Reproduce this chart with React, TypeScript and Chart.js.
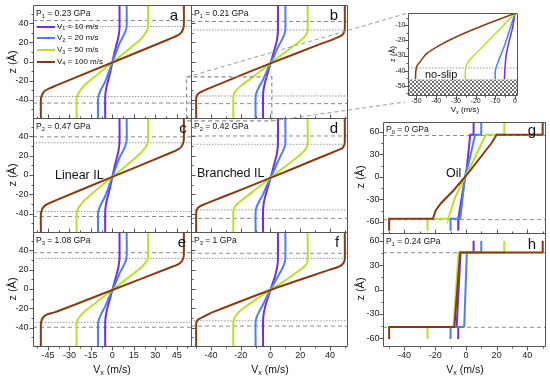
import React, { useEffect, useRef } from 'react';
import { Chart, registerables } from 'chart.js';

Chart.register(...registerables);

type Pt = [number, number]; // [Vx (m/s), z (Å)]

const FONT = '"Liberation Sans", Arial, Helvetica, sans-serif';
const SERIES_COLORS = ['#6c2fe3', '#4c7ff0', '#b6e22c', '#8a3a10'];
const SERIES_SPEEDS = ['10', '20', '50', '100'];

const PANEL_LETTERS = ['a', 'b', 'c', 'd', 'e', 'f', 'g', 'h'];
const PANEL_P_INDEX = ['1', '1', '2', '2', '3', '3', '0', '1'];
const PANEL_P_GPA = ['0.23', '0.21', '0.47', '0.42', '1.08', '1', '0', '0.24'];

// ---------- panel a : P1 = 0.23 GPa (linear IL) ----------
const aV1: Pt[] = [[5, 59], [5, 36], [4.7, 30], [4, 24], [2.8, 17], [1.3, 8], [0, -1], [-1.3, -10], [-2.8, -19], [-4, -26], [-4.7, -32], [-5, -37], [-5, -59]];
const aV2: Pt[] = [[10, 59], [10, 37], [9.3, 32], [7.5, 26], [5, 19], [2.5, 9], [0, -1], [-2.5, -11], [-5, -21], [-7.5, -28], [-9.3, -34], [-10, -39], [-10, -59]];
const aV3: Pt[] = [[25, 59], [25, 37], [24.4, 33], [23, 29.5], [20, 23.5], [10, 11], [0, -1], [-10, -13], [-20, -25.5], [-23, -31.5], [-24.4, -35], [-25, -39], [-25, -59]];
const aV4: Pt[] = [[50, 59], [50, 38], [49.5, 34], [48.3, 30.5], [46, 27.5], [40, 23.5], [0, -1], [-40, -25.5], [-46, -29.5], [-48.3, -32.5], [-49.5, -36], [-50, -40], [-50, -59]];
const aDashed = [42.8, -43.4];
const aDotted = [36.5, -36.5];

// ---------- panel b : P1 = 0.21 GPa (branched IL) ----------
const bV1: Pt[] = [[5, 59], [5, 32], [4.7, 26], [4, 20], [2.8, 13], [1.3, 5], [0, -2], [-1.3, -9], [-2.8, -17], [-4, -24], [-4.7, -30], [-5, -36], [-5, -59]];
const bV2: Pt[] = [[10, 59], [10, 33], [9.3, 28], [7.5, 22], [5, 15], [2.5, 6], [0, -2], [-2.5, -10], [-5, -19], [-7.5, -26], [-9.3, -32], [-10, -37], [-10, -59]];
const bV3: Pt[] = [[25, 59], [25, 33], [24.4, 29], [23, 26], [20, 21.5], [10, 10], [0, -2], [-10, -14], [-20, -25.5], [-23, -30], [-24.4, -33], [-25, -37], [-25, -59]];
const bV4: Pt[] = [[50, 59], [50, 34], [49.6, 31], [48.5, 28], [45, 25], [29, 15.5], [0, -2], [-32, -22], [-45, -30.5], [-48.5, -33.5], [-49.6, -36], [-50, -39], [-50, -59]];
const bDashed = [41.8, -44];
const bDotted = [33, -36];
const bZoomBox: Pt[] = [[-56.5, -16], [0.9, -16], [0.9, -62], [-56.5, -62], [-56.5, -16]];

// ---------- panel c : P2 = 0.47 GPa ----------
const cV1: Pt[] = [[5, 59], [5, 35], [4.7, 29], [4, 23], [2.8, 16], [1.3, 7], [0, -2], [-1.3, -11], [-2.8, -20], [-4, -27], [-4.7, -33], [-5, -39], [-5, -59]];
const cV2: Pt[] = [[10, 59], [10, 36], [9.3, 31], [7.5, 25], [5, 18], [2.5, 8], [0, -2], [-2.5, -12], [-5, -22], [-7.5, -29], [-9.3, -35], [-10, -40], [-10, -59]];
const cV3: Pt[] = [[25, 59], [25, 36], [24.4, 32], [23, 28.5], [20, 23], [10, 10], [0, -2], [-10, -14], [-20, -27], [-23, -32.5], [-24.4, -36], [-25, -40], [-25, -59]];
const cV4: Pt[] = [[50, 59], [50, 37], [49.5, 33], [48.3, 29.5], [46, 26.5], [40, 22.5], [0, -2], [-40, -26.5], [-46, -30.5], [-48.3, -33.5], [-49.5, -37], [-50, -41], [-50, -59]];
const cDashed = [39.5, -43];
const cDotted = [33.4, -37.8];

// ---------- panel d : P2 = 0.42 GPa ----------
const dV1: Pt[] = [[5, 59], [5, 32], [4.7, 26], [4, 20], [2.8, 13], [1.3, 4], [0, -3], [-1.3, -10], [-2.8, -18], [-4, -25], [-4.7, -31], [-5, -37], [-5, -59]];
const dV2: Pt[] = [[10, 59], [10, 33], [9.3, 28], [7.5, 22], [5, 14], [2.5, 5], [0, -3], [-2.5, -11], [-5, -20], [-7.5, -27], [-9.3, -33], [-10, -38], [-10, -59]];
const dV3: Pt[] = [[25, 59], [25, 32], [24.4, 28.5], [23, 25.5], [20, 21], [10, 9], [0, -3], [-10, -15], [-20, -27], [-23, -31], [-24.4, -34], [-25, -38], [-25, -59]];
const dV4: Pt[] = [[50, 59], [50, 34], [49.6, 31], [48.5, 28], [45, 25.5], [30, 16], [0, -3], [-30, -21.5], [-45, -30.5], [-48.5, -33.5], [-49.6, -36], [-50, -39], [-50, -59]];
const dDashed = [40.4, -44.9];
const dDotted = [31.8, -36.1];

// ---------- panel e : P3 = 1.08 GPa ----------
const eV1: Pt[] = [[5, 59], [5, 33], [4.7, 27], [4, 21], [2.8, 14], [1.3, 6], [0, -1], [-1.3, -8], [-2.8, -16], [-4, -23], [-4.7, -29], [-5, -35], [-5, -59]];
const eV2: Pt[] = [[10, 59], [10, 34], [9.3, 29], [7.5, 23], [5, 16], [2.5, 7], [0, -1], [-2.5, -9], [-5, -18], [-7.5, -25], [-9.3, -31], [-10, -36], [-10, -59]];
const eV3: Pt[] = [[25, 59], [25, 34], [24.4, 30], [23, 27], [20, 22], [10, 10.5], [0, -1], [-10, -12.5], [-20, -24], [-23, -29], [-24.4, -32], [-25, -36], [-25, -59]];
const eV4: Pt[] = [[50, 59], [50, 36], [49.6, 32], [48.5, 28.5], [46, 25.5], [40, 22], [0, -1], [-40, -24], [-46, -26.5], [-48.5, -29.5], [-49.6, -33], [-50, -37], [-50, -59]];
const eDashed = [37.6, -39.6];
const eDotted = [31.7, -34.5];

// ---------- panel f : P3 = 1 GPa ----------
const fV1: Pt[] = [[5, 59], [5, 30], [4.7, 25], [4, 19], [2.8, 12], [1.3, 5], [0, -1], [-1.3, -7], [-2.8, -14], [-4, -21], [-4.7, -27], [-5, -33], [-5, -59]];
const fV2: Pt[] = [[10, 59], [10, 31], [9.3, 26], [7.5, 20], [5, 13], [2.5, 6], [0, -1], [-2.5, -8], [-5, -16], [-7.5, -23], [-9.3, -29], [-10, -34], [-10, -59]];
const fV3: Pt[] = [[25, 59], [25, 30], [24.3, 26], [22.5, 23], [20, 20], [10, 9], [0, -1], [-10, -11], [-20, -22], [-22.5, -26], [-24.3, -30], [-25, -34], [-25, -59]];
const fV4: Pt[] = [[50, 59], [50, 31], [49.5, 28], [48, 25], [45, 22.5], [40, 20], [0, -1], [-38.8, -24], [-45, -28.5], [-48, -31], [-49.5, -33], [-50, -36], [-50, -59]];
const fDashed = [37, -38.4];
const fDotted = [31.7, -32.9];

// ---------- panel g : oil, P0 = 0 GPa ----------
const gV1: Pt[] = [[5, 72], [5, 56], [2.8, 56], [0.5, 10], [-0.5, 0], [-2.5, -25], [-4.8, -54], [-5, -56], [-5, -72]];
const gV2: Pt[] = [[10, 72], [10, 56], [6, 56], [2, 20], [-0.5, 0], [-2, -25], [-3.7, -56], [-10, -56], [-10, -72]];
const gV3: Pt[] = [[25, 72], [25, 56], [13, 56], [10.3, 45], [5, 22], [-0.5, 0], [-6.9, -27], [-11.2, -54], [-11.5, -56], [-25, -56], [-25, -72]];
const gV4: Pt[] = [[50, 72], [50, 56], [20, 56], [16.7, 45], [8, 22], [-0.5, 0], [-8, -18], [-16.5, -36], [-19.7, -45], [-21, -53], [-21.5, -56], [-50, -56], [-50, -72]];
const gDashed = [55, -57.2];

// ---------- panel h : oil, P1 = 0.24 GPa ----------
const hV1: Pt[] = [[5, 60], [5, 45.5], [-3.5, 45.5], [-6, -45], [-6, -46], [-5, -46], [-5, -61]];
const hV2: Pt[] = [[10, 60], [10, 45.5], [0.6, 45.5], [-1.1, -45], [-1.5, -46], [-10, -46], [-10, -61]];
const hV3: Pt[] = [[25, 60], [25, 45.5], [-4.8, 45.5], [-8, -43], [-8.5, -46], [-25, -46], [-25, -61]];
const hV4: Pt[] = [[50, 60], [50, 45.5], [-3.7, 45.5], [-7.5, -45], [-7.5, -46], [-50, -46], [-50, -61]];
const hDashed = [45.3, -46.5];

// ---------- inset (zoom of panel b, lower half) ----------
const inV1: Pt[] = [[0, -2.2], [-1.3, -12], [-3.3, -22.2], [-4.5, -30], [-5, -36.7], [-5.4, -45.5]];
const inV2: Pt[] = [[0, -2.2], [-2, -10], [-5, -22.2], [-8.3, -33.3], [-10, -40], [-10, -45.5]];
const inV3: Pt[] = [[0, -2.2], [-5, -9], [-13.3, -20], [-20, -28.9], [-23.3, -33.3], [-25, -37.8], [-25.3, -45.5]];
const inV4: Pt[] = [[0, -2.2], [-10, -7.1], [-20, -12.2], [-30, -17.8], [-38.3, -23.3], [-45, -28.9], [-48.3, -34.4], [-49.7, -36.7], [-50.3, -40], [-50.5, -45.5]];
const inDotted = [-38.2, -46];
const inHatchTop = -46;

// ---------------------------------------------------------------
interface Spec {
  plot: [number, number, number, number];
  padL: number; padB: number;
  x: [number, number]; xStep: number; xMajor: number; xLabels: boolean; xDir: string;
  y: [number, number]; yStep: number; yMajor: number; yLabels: boolean; yDir: string;
  series: Pt[][]; dashed: number[]; dotted: number[];
  tension: number; font: number; lineW: number; xPad: number; yPad: number;
  box?: Pt[]; hatch?: number;
}

const LEFT = { padL: 33, x: [-55.5, 55] as [number, number], xStep: 7.5, xMajor: 15, y: [-59, 59] as [number, number], yStep: 10, yMajor: 20, yLabels: true, yDir: 'out', tension: 0.3, font: 9, lineW: 2, xPad: 4, yPad: 5 };
const MID = { padL: 6, x: [-53.5, 51.5] as [number, number], xStep: 10, xMajor: 20, y: [-59, 59] as [number, number], yStep: 10, yMajor: 20, yLabels: false, yDir: 'in', tension: 0.3, font: 9, lineW: 2, xPad: 4, yPad: 5 };
const RIGHT = { padL: 24, x: [-54, 51.5] as [number, number], xStep: 10, xMajor: 20, yStep: 15, yMajor: 30, yLabels: true, yDir: 'out', tension: 0, font: 9, lineW: 2, xPad: 4, yPad: 4 };

const SPECS: Spec[] = [
  { ...LEFT, plot: [33, 5, 191, 118], padB: 6, xLabels: false, xDir: 'in', series: [aV1, aV2, aV3, aV4], dashed: aDashed, dotted: aDotted },
  { ...MID, plot: [191, 5, 347, 118], padB: 6, xLabels: false, xDir: 'in', series: [bV1, bV2, bV3, bV4], dashed: bDashed, dotted: bDotted, box: bZoomBox },
  { ...LEFT, plot: [33, 118, 191, 232], padB: 6, xLabels: false, xDir: 'in', series: [cV1, cV2, cV3, cV4], dashed: cDashed, dotted: cDotted },
  { ...MID, plot: [191, 118, 347, 232], padB: 6, xLabels: false, xDir: 'in', series: [dV1, dV2, dV3, dV4], dashed: dDashed, dotted: dDotted },
  { ...LEFT, plot: [33, 232, 191, 346], padB: 24, xLabels: true, xDir: 'out', series: [eV1, eV2, eV3, eV4], dashed: eDashed, dotted: eDotted },
  { ...MID, plot: [191, 232, 347, 346], padB: 24, xLabels: true, xDir: 'out', series: [fV1, fV2, fV3, fV4], dashed: fDashed, dotted: fDotted },
  { ...RIGHT, plot: [383, 122, 545, 233], padB: 6, y: [-75, 73], xLabels: false, xDir: 'in', series: [gV1, gV2, gV3, gV4], dashed: gDashed, dotted: [] },
  { ...RIGHT, plot: [383, 233, 545, 346], padB: 24, y: [-69.5, 69.5], xLabels: true, xDir: 'out', series: [hV1, hV2, hV3, hV4], dashed: hDashed, dotted: [] },
  { plot: [408, 13, 517, 95], padL: 24, padB: 14, x: [-54.3, 1], xStep: 5, xMajor: 10, xLabels: true, xDir: 'out', y: [-56, -2], yStep: 5, yMajor: 10, yLabels: true, yDir: 'out', series: [inV1, inV2, inV3, inV4], dashed: [], dotted: inDotted, tension: 0.3, font: 7, lineW: 1.5, xPad: 1.5, yPad: 3, hatch: inHatchTop },
];

const isMul = (v: number, m: number) => { const q = v / m; return Math.abs(q - Math.round(q)) < 1e-6; };

const framePlugin = {
  id: 'frame',
  beforeDatasetsDraw(chart: any, _a: any, opts: any) {
    if (opts.hatchFrom == null) return;
    const { ctx, chartArea: ca } = chart;
    const y0 = chart.scales.y.getPixelForValue(opts.hatchFrom);
    const pc = document.createElement('canvas');
    pc.width = 4; pc.height = 4;
    const p = pc.getContext('2d')!;
    p.fillStyle = '#ffffff'; p.fillRect(0, 0, 4, 4);
    p.fillStyle = '#6e6e6e'; p.fillRect(0, 0, 2, 2); p.fillRect(2, 2, 2, 2);
    ctx.save();
    ctx.fillStyle = ctx.createPattern(pc, 'repeat');
    ctx.fillRect(ca.left, y0, ca.right - ca.left, ca.bottom - y0);
    ctx.restore();
  },
  afterDatasetsDraw(chart: any, _a: any, opts: any) {
    const { ctx, chartArea: ca, scales } = chart;
    ctx.save();
    ctx.strokeStyle = '#555';
    ctx.lineWidth = 1;
    const l = Math.round(ca.left) + 0.5, t = Math.round(ca.top) + 0.5;
    const r = Math.round(ca.right) + 0.5, b = Math.round(ca.bottom) + 0.5;
    ctx.beginPath();
    ctx.rect(l, t, r - l, b - t);
    ctx.stroke();
    const ticks = (scale: any, dir: string, major: number, horiz: boolean) => {
      if (!dir || dir === 'none') return;
      ctx.beginPath();
      for (const tk of scale.ticks) {
        const len = isMul(tk.value, major) ? 4 : 2;
        const p = Math.round(scale.getPixelForValue(tk.value)) + 0.5;
        if (horiz) {
          const s = dir === 'out' ? 1 : -1;
          ctx.moveTo(p, b); ctx.lineTo(p, b + s * len);
        } else {
          const s = dir === 'out' ? -1 : 1;
          ctx.moveTo(l, p); ctx.lineTo(l + s * len, p);
        }
      }
      ctx.stroke();
    };
    ticks(scales.x, opts.xDir, opts.xMajor, true);
    ticks(scales.y, opts.yDir, opts.yMajor, false);
    // tick labels
    ctx.fillStyle = '#222';
    ctx.font = `${opts.font}px ${FONT}`;
    if (opts.xLabels) {
      ctx.textAlign = 'center';
      ctx.textBaseline = 'middle';
      for (const tk of scales.x.ticks) {
        if (!isMul(tk.value, opts.xMajor)) continue;
        const p = scales.x.getPixelForValue(tk.value);
        ctx.fillText(String(Math.round(tk.value * 100) / 100 || 0), p, b + opts.xPad + opts.font * 0.6);
      }
    }
    if (opts.yLabels) {
      ctx.textAlign = 'right';
      ctx.textBaseline = 'middle';
      for (const tk of scales.y.ticks) {
        if (!isMul(tk.value, opts.yMajor)) continue;
        const p = scales.y.getPixelForValue(tk.value);
        ctx.fillText(String(Math.round(tk.value * 100) / 100 || 0), l - opts.yPad, p);
      }
    }
    ctx.restore();
  },
};

const toXY = (s: Pt[]) => s.map(([x, y]) => ({ x, y }));

function Panel({ spec }: { spec: Spec }) {
  const ref = useRef<HTMLCanvasElement>(null);
  const [L, T, R, B] = spec.plot;
  const padT = 4, padR = 4;
  const w = R - L + spec.padL + padR;
  const h = B - T + padT + spec.padB;
  useEffect(() => {
    const datasets: any[] = [];
    spec.dashed.forEach((z) => datasets.push({ data: toXY([[spec.x[0], z], [spec.x[1], z]]), borderColor: '#8c8c8c', borderWidth: 1, borderDash: [4, 3], showLine: true, pointRadius: 0, order: 10 }));
    spec.dotted.forEach((z) => datasets.push({ data: toXY([[spec.x[0], z], [spec.x[1], z]]), borderColor: '#9a9a9a', borderWidth: 1, borderDash: [1.5, 1.5], showLine: true, pointRadius: 0, order: 10 }));
    if (spec.box) datasets.push({ data: toXY(spec.box), borderColor: '#8c8c8c', borderWidth: 1.2, borderDash: [4, 3], showLine: true, pointRadius: 0, clip: false, order: 0 });
    spec.series.forEach((s, i) => datasets.push({ data: toXY(s), borderColor: SERIES_COLORS[i], borderWidth: spec.lineW, showLine: true, pointRadius: 0, tension: spec.tension, order: 4 - i }));
    const fit = (dim: 'width' | 'height', v: number) => (s: any) => {
      s[dim] = v;
      s.paddingTop = 0; s.paddingBottom = 0; s.paddingLeft = 0; s.paddingRight = 0;
    };
    const chart = new Chart(ref.current!, {
      type: 'scatter',
      data: { datasets },
      options: {
        animation: false,
        responsive: false,
        maintainAspectRatio: false,
        events: [],
        layout: { padding: { top: padT, right: padR, left: 0, bottom: 0 } },
        plugins: {
          legend: { display: false },
          tooltip: { enabled: false },
          frame: {
            xDir: spec.xDir, yDir: spec.yDir, xMajor: spec.xMajor, yMajor: spec.yMajor, hatchFrom: spec.hatch,
            xLabels: spec.xLabels, yLabels: spec.yLabels, xPad: spec.xPad, yPad: spec.yPad, font: spec.font,
          },
        } as any,
        scales: {
          x: {
            type: 'linear', min: spec.x[0], max: spec.x[1],
            afterFit: fit('height', spec.padB),
            grid: { display: false, drawTicks: false },
            border: { display: false },
            ticks: { display: false, stepSize: spec.xStep, includeBounds: false, autoSkip: false, maxRotation: 0 },
          },
          y: {
            type: 'linear', min: spec.y[0], max: spec.y[1],
            afterFit: fit('width', spec.padL),
            grid: { display: false, drawTicks: false },
            border: { display: false },
            ticks: { display: false, stepSize: spec.yStep, includeBounds: false, autoSkip: false },
          },
        } as any,
      },
      plugins: [framePlugin as any],
    });
    return () => chart.destroy();
  }, []);
  return (
    <canvas ref={ref} width={w} height={h}
      style={{ position: 'absolute', left: L - spec.padL, top: T - padT, width: w, height: h }} />
  );
}

const Sub = ({ c }: { c: string }) => (
  <span style={{ fontSize: '0.68em', position: 'relative', top: '0.32em' }}>{c}</span>
);

function Txt({ x, y, size, children, align = 'left', rotate = false }: any) {
  const transform = rotate ? 'translate(-50%,-50%) rotate(-90deg)' : align === 'center' ? 'translate(-50%,-50%)' : 'translate(0,-50%)';
  return (
    <div style={{ position: 'absolute', left: x, top: y, transform, fontSize: size, lineHeight: 1, whiteSpace: 'nowrap', fontFamily: FONT, color: '#111' }}>
      {children}
    </div>
  );
}

// layout of the overlay text (page pixels)
const P_POS: [number, number][] = [[36, 13], [194, 13], [36, 126], [194, 126], [36, 240], [194, 240], [386, 129], [386, 241]];
const LETTER_POS: [number, number][] = [[174, 14], [334, 14], [183, 127], [334, 127], [182, 241], [337, 241], [532, 129], [532, 243]];
const LEGEND_Y = [26.7, 38.3, 50, 61.5];

export default function App() {
  return (
    <div style={{ position: 'absolute', left: 0, top: 0, width: 550, height: 381, background: '#fff', overflow: 'hidden' }}>
      {SPECS.map((s, i) => <Panel key={i} spec={s} />)}
      <svg width={550} height={381} style={{ position: 'absolute', left: 0, top: 0, pointerEvents: 'none' }}>
        <line x1={187} y1={77} x2={408} y2={13} stroke="#999" strokeWidth={1} strokeDasharray="4 3" />
        <line x1={272} y1={121} x2={405} y2={102} stroke="#999" strokeWidth={1} strokeDasharray="4 3" />
      </svg>
      {PANEL_LETTERS.map((l, i) => (
        <React.Fragment key={l}>
          <Txt x={P_POS[i][0]} y={P_POS[i][1]} size={8.5}>P<Sub c={PANEL_P_INDEX[i]} /> = {PANEL_P_GPA[i]} GPa</Txt>
          <Txt x={LETTER_POS[i][0]} y={LETTER_POS[i][1]} size={15} align="center">{l}</Txt>
        </React.Fragment>
      ))}
      {SERIES_SPEEDS.map((v, i) => (
        <React.Fragment key={v}>
          <div style={{ position: 'absolute', left: 36.5, top: LEGEND_Y[i] - 1, width: 18.5, height: 2, background: SERIES_COLORS[i] }} />
          <Txt x={57} y={LEGEND_Y[i]} size={8}>V<Sub c={String(i + 1)} /> = {v} m/s</Txt>
        </React.Fragment>
      ))}
      <Txt x={55} y={175} size={12.5}>Linear IL</Txt>
      <Txt x={197} y={173} size={12.5}>Branched IL</Txt>
      <Txt x={446} y={173} size={12.5}>Oil</Txt>
      <Txt x={425} y={74} size={11}>no-slip</Txt>
      {[62, 175, 289].map((y) => <Txt key={y} x={12} y={y} size={11} rotate>z (Å)</Txt>)}
      {[177, 289].map((y) => <Txt key={y} x={360} y={y} size={11} rotate>z (Å)</Txt>)}
      <Txt x={393} y={54} size={7.5} rotate>z (Å)</Txt>
      {[112, 270, 465].map((x) => <Txt key={x} x={x} y={370} size={10.5} align="center">V<Sub c="x" /> (m/s)</Txt>)}
      <Txt x={465} y={110} size={8} align="center">V<Sub c="x" /> (m/s)</Txt>
    </div>
  );
}
